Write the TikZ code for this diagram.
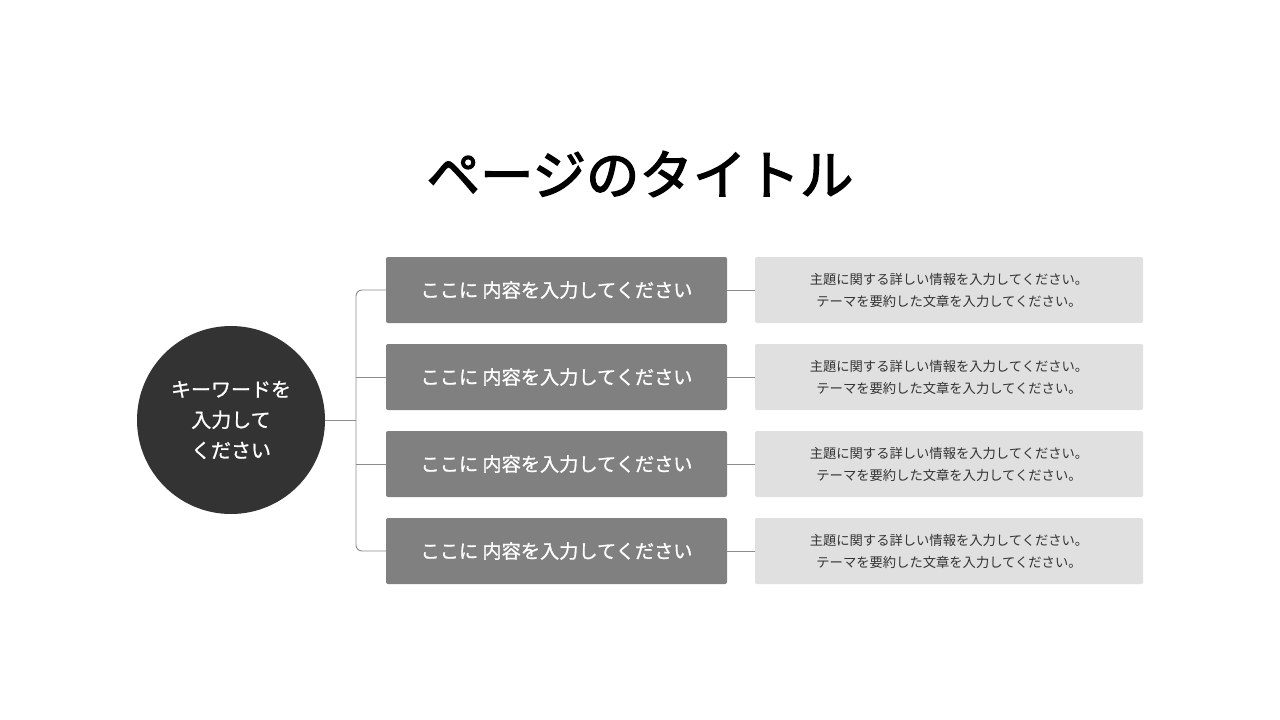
\documentclass[tikz,border=0pt]{standalone}
\usepackage{fontspec}
\newfontfamily\jp{Noto Sans CJK JP}
\newfontfamily\jpm[FakeBold=1]{Noto Sans CJK JP}
\newfontfamily\jpt[FakeBold=2.5]{Noto Sans CJK JP}
\begin{document}
\begin{tikzpicture}[x=1pt,y=-1pt,
  keybox/.style={draw=none,fill=black!50,rounded corners=2pt,minimum width=341pt,minimum height=66pt,inner sep=0pt,text=white,font=\jpm\fontsize{19.2}{21}\selectfont},
  infobox/.style={draw=none,fill=black!12,rounded corners=2pt,minimum width=388pt,minimum height=66pt,inner sep=0pt,text=black!80,align=center,font=\jp\fontsize{13.3}{22}\selectfont},
  conn/.style={draw=black!45,line width=0.9pt}]
\useasboundingbox (0,0) rectangle (1280,720);
\fill[white] (0,0) rectangle (1280,720);
\node[font=\jpt\fontsize{53.5}{60}\selectfont] (title) at (640,174) {ページのタイトル};
\node[circle,fill=black!80,minimum size=188pt,inner sep=0pt,text=white,align=center,font=\jpm\fontsize{20}{30.5}\selectfont] (hub) at (231,420) {キーワードを\\入力して\\ください};
\foreach \i/\y in {1/290,2/377,3/464,4/551}{
  \node[keybox] (k\i) at (556.5,\y) {ここに 内容を入力してください};
  \node[infobox] (d\i) at (949,\y) {主題に関する詳しい情報を入力してください。\\テーマを要約した文章を入力してください。};
  \draw[conn] (k\i.east) -- (d\i.west);
}
\coordinate (j) at (356,420);
\draw[conn] (hub.east) -- (j);
\draw[conn,rounded corners=6pt] (k1.west) -| (j) |- (k4.west);
\draw[conn] (k2.west) -- (k2.west -| j);
\draw[conn] (k3.west) -- (k3.west -| j);
\end{tikzpicture}
\end{document}
